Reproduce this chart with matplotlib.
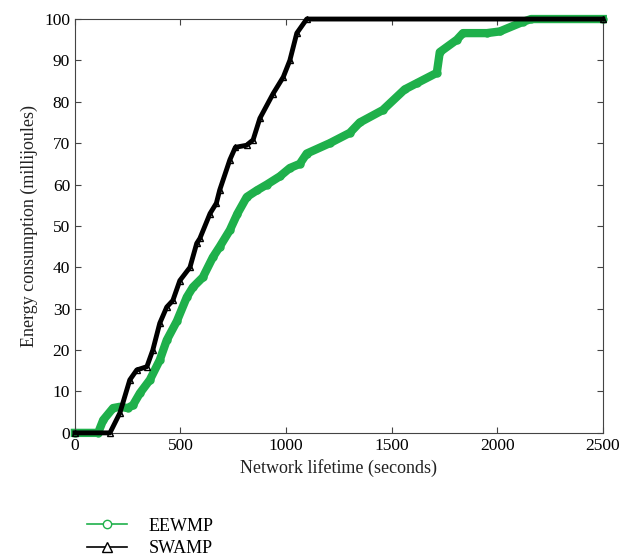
import matplotlib.pyplot as plt
from matplotlib.lines import Line2D

plt.rcParams['font.family'] = ['Liberation Serif', 'DejaVu Serif']

# values
eewmp_t = [0, 110, 134, 181, 213, 250, 275, 308, 355, 402, 435, 483, 530, 559, 606,
           653, 686, 734, 770, 814, 862, 909, 971, 1018, 1065, 1098, 1207, 1302,
           1349, 1458, 1562, 1619, 1714, 1728, 1809, 1838, 1951, 2012, 2121, 2160,
           2500]
eewmp_e = [0, 0, 3.1, 6, 6.3, 6, 6.7, 9.6, 12.8, 17.6, 22.4, 27, 32.8, 35.2, 37.6,
           42.4, 45, 49, 53, 57, 58.6, 60, 62, 64, 65, 67.5, 70, 72.5,
           75, 78, 83, 84.5, 87, 92, 95, 96.6, 96.6, 97, 99.3, 100,
           100]

swamp_t = [0, 166, 213, 260, 293, 341, 369, 402, 435, 464, 497, 545, 577, 592,
           640, 670, 686, 734, 760, 813, 844, 876, 939, 987, 1018, 1051, 1098, 2500]
swamp_e = [0, 0, 4.8, 12.8, 15.2, 16, 20, 26.5, 30.4, 32, 36.8, 40, 45.8, 47,
           53, 55.5, 58.7, 66, 69, 69.5, 70.8, 76, 82, 86, 90, 96.6, 100, 100]

green = '#1fb04b'

fig = plt.figure(figsize=(6.24, 5.6), dpi=100)
ax = fig.add_axes([0.120, 0.227, 0.846, 0.739])

ax.plot(eewmp_t, eewmp_e, '-', color=green, lw=6, marker='o', ms=5,
        mfc='none', mec=green, solid_joinstyle='round', clip_on=False, zorder=2)
ax.plot(swamp_t, swamp_e, '-', color='black', lw=3.5, marker='^', ms=5,
        mfc='none', mec='black', clip_on=False, zorder=3)

ax.set_xlim(0, 2500)
ax.set_ylim(0, 100)
ax.set_xticks([0, 500, 1000, 1500, 2000, 2500])
ax.set_yticks(range(0, 101, 10))
ax.tick_params(direction='in', top=True, right=True, labelsize=12.5, length=4,
               color='#444444')
for s in ax.spines.values():
    s.set_color('#444444')
ax.set_xlabel('Network lifetime (seconds)', fontsize=13, color='#222222')
ax.set_ylabel('Energy consumption (millijoules)', fontsize=13, color='#222222')

handles = [Line2D([], [], color=green, lw=1.2, marker='o', ms=6, mfc='white'),
           Line2D([], [], color='black', lw=1.2, marker='^', ms=7, mfc='white')]
fig.legend(handles, ['EEWMP', 'SWAMP'], loc='upper left',
           bbox_to_anchor=(0.125, 0.092), frameon=False, fontsize=13,
           handlelength=2.2, handletextpad=1.2, labelspacing=0.3, borderpad=0)

fig.savefig('out.png', dpi=100)
